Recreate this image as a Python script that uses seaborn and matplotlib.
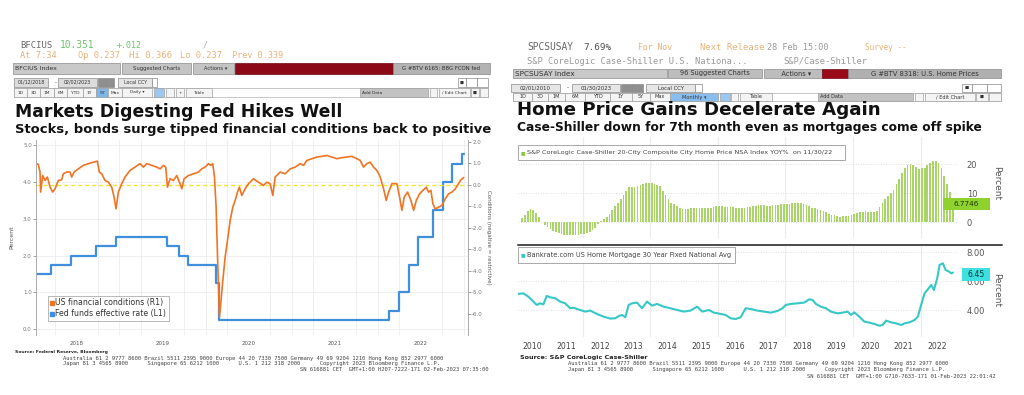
import numpy as np
import pandas as pd
import matplotlib
matplotlib.use('Agg')
import matplotlib.pyplot as plt
import seaborn as sns
from matplotlib.patches import Rectangle
from matplotlib.lines import Line2D

W, H = 1024, 395

# ---------------- left chart data ----------------
# Fed funds effective rate (L1), step starts in decimal years
fed_years = [2018.03, 2018.21, 2018.44, 2018.73, 2018.96, 2019.55, 2019.69, 2019.80,
             2020.12, 2020.16, 2022.13, 2022.25, 2022.37, 2022.47, 2022.64, 2022.76,
             2022.86, 2022.985, 2022.999]
fed_rate = [1.5, 1.75, 2.0, 2.25, 2.5, 2.25, 2.0, 1.75,
            1.25, 0.25, 0.5, 1.0, 1.75, 2.5, 3.25, 4.0,
            4.5, 4.75, 4.75]

# US financial conditions (R1)
fci_years = [2018.030, 2018.057, 2018.077, 2018.084, 2018.108, 2018.135, 2018.162, 2018.193,
             2018.224, 2018.251, 2018.290, 2018.328, 2018.348, 2018.387, 2018.425, 2018.445,
             2018.472, 2018.522, 2018.580, 2018.639, 2018.697, 2018.743, 2018.766, 2018.794,
             2018.832, 2018.871, 2018.910, 2018.937, 2018.960, 2018.987, 2019.026, 2019.065,
             2019.123, 2019.181, 2019.239, 2019.278, 2019.317, 2019.375, 2019.433, 2019.472,
             2019.511, 2019.538, 2019.557, 2019.588, 2019.627, 2019.666, 2019.704, 2019.724,
             2019.751, 2019.801, 2019.859, 2019.918, 2019.956, 2019.995, 2020.034, 2020.061,
             2020.084, 2020.104, 2020.123, 2020.142, 2020.162, 2020.177, 2020.201, 2020.228,
             2020.255, 2020.286, 2020.317, 2020.344, 2020.371, 2020.394, 2020.421, 2020.460,
             2020.499, 2020.557, 2020.615, 2020.673, 2020.712, 2020.751, 2020.782, 2020.809,
             2020.867, 2020.925, 2020.984, 2021.042, 2021.100, 2021.139, 2021.177, 2021.236,
             2021.294, 2021.352, 2021.410, 2021.468, 2021.526, 2021.584, 2021.642, 2021.701,
             2021.759, 2021.797, 2021.836, 2021.875, 2021.914, 2021.952, 2021.991, 2022.030,
             2022.069, 2022.100, 2022.127, 2022.166, 2022.224, 2022.255, 2022.282, 2022.309,
             2022.348, 2022.387, 2022.418, 2022.449, 2022.487, 2022.526, 2022.565, 2022.592,
             2022.619, 2022.642, 2022.669, 2022.708, 2022.747, 2022.786, 2022.824, 2022.863,
             2022.902, 2022.940, 2022.968, 2022.999]
fci_value = [0.98, 0.95, 0.59, -0.34, 0.43, 0.20, 0.36, -0.11,
             -0.34, -0.19, 0.20, 0.23, 0.51, 0.59, 0.59, 0.36,
             0.59, 0.74, 0.90, 0.98, 1.05, 1.10, 0.59, 0.51,
             0.20, 0.12, -0.11, -0.57, -1.12, -0.34, 0.05, 0.36,
             0.67, 0.82, 0.98, 0.82, 0.98, 0.90, 0.82, 0.74,
             0.90, 0.82, -0.11, 0.28, 0.20, 0.43, 0.05, -0.19,
             0.28, 0.43, 0.51, 0.59, 0.74, 0.82, 0.98, 0.90,
             0.98, 0.36, -1.04, -3.67, -6.15, -5.53, -4.45, -3.36,
             -2.59, -1.66, -1.04, -0.73, -0.34, -0.11, -0.50, -0.19,
             0.05, 0.28, 0.12, -0.03, 0.12, 0.05, -0.50, 0.36,
             0.59, 0.51, 0.74, 0.82, 0.98, 0.90, 1.13, 1.21,
             1.29, 1.32, 1.36, 1.29, 1.21, 1.26, 1.29, 1.32,
             1.21, 1.13, 0.82, 0.98, 1.05, 0.82, 0.67, 0.36,
             -0.19, -0.73, -0.34, 0.05, 0.05, -0.57, -1.19, -0.57,
             -0.34, -0.73, -1.19, -0.73, -0.42, -0.26, -0.11, -0.34,
             -0.26, -0.88, -1.12, -1.04, -0.96, -0.65, -0.42, -0.34,
             -0.19, 0.05, 0.23, 0.33]

# ---------------- right chart data ----------------
# Case-Shiller 20-city YoY %, monthly Feb 2010 .. Nov 2022
cs_yoy = [1.4, 2.6, 3.8, 4.6, 4.3, 3.2, 1.7, 0.2, -0.9, -1.6, -2.4,
          -3.0, -3.3, -3.6, -4.0, -4.2, -4.4, -4.5, -4.4, -4.3, -4.2, -4.0, -3.9,
          -3.8, -3.5, -2.6, -1.8, -0.7, 0.5, 1.2, 2.0, 3.0, 4.2, 5.5, 6.8,
          8.1, 9.3, 10.9, 12.1, 12.2, 12.2, 12.4, 12.8, 13.3, 13.6, 13.7, 13.4,
          13.2, 12.9, 12.4, 10.8, 9.3, 8.1, 6.7, 6.2, 5.6, 4.9, 4.5, 4.5,
          4.6, 4.8, 5.0, 5.0, 4.9, 5.0, 5.0, 5.0, 5.1, 5.4, 5.7, 5.6,
          5.6, 5.3, 5.3, 5.4, 5.3, 5.1, 5.1, 5.1, 5.1, 5.2, 5.2, 5.5,
          5.6, 5.8, 5.9, 6.0, 5.7, 5.7, 5.8, 5.8, 6.0, 6.4, 6.4, 6.4,
          6.4, 6.8, 6.8, 6.6, 6.5, 6.4, 5.9, 5.5, 5.1, 5.0, 4.6, 4.2,
          4.0, 3.5, 2.8, 2.5, 2.4, 2.2, 2.0, 2.1, 2.1, 2.2, 2.6, 2.9,
          3.1, 3.5, 3.5, 3.9, 3.7, 3.5, 3.5, 3.9, 5.2, 6.6, 7.9, 9.1,
          10.1, 11.1, 13.3, 14.9, 17.0, 18.6, 19.7, 20.0, 19.8, 19.2, 18.4, 18.6,
          18.8, 19.9, 20.3, 21.2, 21.2, 20.5, 18.7, 16.1, 13.1, 10.4, 6.77]

# Bankrate 30y fixed mortgage rate
mort_years = [2010.090, 2010.238, 2010.387, 2010.535, 2010.634, 2010.733, 2010.832, 2010.931,
              2011.030, 2011.179, 2011.327, 2011.476, 2011.624, 2011.723, 2011.921, 2012.070,
              2012.218, 2012.416, 2012.614, 2012.812, 2012.961, 2013.060, 2013.159, 2013.258,
              2013.357, 2013.456, 2013.604, 2013.753, 2013.901, 2014.050, 2014.198, 2014.396,
              2014.594, 2014.792, 2014.990, 2015.188, 2015.386, 2015.535, 2015.733, 2015.881,
              2016.079, 2016.228, 2016.376, 2016.525, 2016.673, 2016.822, 2016.970, 2017.168,
              2017.366, 2017.564, 2017.762, 2017.911, 2018.010, 2018.158, 2018.356, 2018.554,
              2018.703, 2018.802, 2018.901, 2019.049, 2019.198, 2019.346, 2019.544, 2019.693,
              2019.841, 2019.940, 2020.039, 2020.188, 2020.336, 2020.485, 2020.633, 2020.782,
              2020.881, 2020.980, 2021.128, 2021.277, 2021.425, 2021.524, 2021.673, 2021.821,
              2021.920, 2022.019, 2022.118, 2022.217, 2022.316, 2022.396, 2022.495, 2022.564,
              2022.663, 2022.742, 2022.841, 2022.910, 2022.960]
mort_rate = [5.13, 5.17, 4.94, 4.60, 4.37, 4.48, 4.41, 4.99,
             4.90, 4.83, 4.60, 4.48, 4.14, 4.18, 4.02, 3.91,
             3.98, 3.75, 3.56, 3.43, 3.45, 3.60, 3.68, 3.52,
             4.37, 4.48, 4.53, 4.14, 4.60, 4.32, 4.44, 4.25,
             4.14, 4.02, 3.91, 3.98, 4.25, 3.91, 4.02, 3.84,
             3.75, 3.68, 3.45, 3.40, 3.52, 4.14, 4.09, 3.98,
             3.91, 3.84, 3.95, 4.14, 4.37, 4.44, 4.48, 4.53,
             4.76, 4.71, 4.44, 4.25, 4.14, 3.91, 3.79, 3.84,
             3.91, 3.68, 3.86, 3.56, 3.22, 3.15, 3.06, 2.94,
             2.99, 3.29, 3.17, 3.10, 2.99, 3.10, 3.17, 3.33,
             3.56, 4.37, 5.17, 5.45, 5.75, 5.40, 6.21, 7.13,
             7.24, 6.78, 6.67, 6.55, 6.60]

cs_dates = pd.date_range('2010-02-15', periods=len(cs_yoy), freq='MS') + pd.Timedelta(days=14)
cs_years = cs_dates.year + (cs_dates.dayofyear - 1) / 365.25

sns.set_style('white')
plt.rcParams['font.family'] = ['DejaVu Sans']

fig = plt.figure(figsize=(W / 100, H / 100), dpi=100)
renderer = fig.canvas.get_renderer()


def fx(px):
    return px / W


def fy(py):
    return 1 - py / H


def rect(x0, y0, x1, y1):
    return [fx(x0), fy(y1), (x1 - x0) / W, (y1 - y0) / H]


def txt(x, y, s, size=5, color='#222', ha='left', va='center', width=None, **kw):
    t = fig.text(fx(x), fy(y), s, fontsize=size, color=color, ha=ha, va=va, **kw)
    if width:
        w = t.get_window_extent(renderer).width
        t.set_fontsize(size * width / w)
    return t


def box(x0, y0, x1, y1, fc, ec='#8a8a8a', lw=0.5, label=None, tcolor='#333', size=3.6, ha='center'):
    fig.add_artist(Rectangle((fx(x0), fy(y1)), (x1 - x0) / W, (y1 - y0) / H,
                             transform=fig.transFigure, fc=fc, ec=ec, lw=lw))
    if label:
        if ha == 'center':
            txt((x0 + x1) / 2, (y0 + y1) / 2, label, size=size, color=tcolor, ha='center')
        else:
            txt(x0 + 2, (y0 + y1) / 2, label, size=size, color=tcolor, ha='left')


mono = 'DejaVu Sans Mono'
amber = '#eab27a'
green = '#6cc46c'

# ================= LEFT PANEL HEADER =================
txt(20, 45, 'BFCIUS', 6, '#666', family=mono, width=32)
txt(60, 45, '10.351', 7, green, family=mono, width=35)
txt(117, 45, '+.012', 6, green, family=mono, width=25)
txt(203, 45, '/', 6, '#aaa', family=mono)
txt(20, 56, 'At 7:34', 6, amber, family=mono, width=37)
txt(78, 56, 'Op 0.237', 6, amber, family=mono, width=42)
txt(129, 56, 'Hi 0.366', 6, amber, family=mono, width=43)
txt(180, 56, 'Lo 0.237', 6, amber, family=mono, width=42)
txt(232, 56, 'Prev 0.339', 6, amber, family=mono, width=51)

box(13, 63, 120, 74, '#c9c9c9', label='BFCIUS Index', ha='left', size=4.5)
box(122, 63, 191, 74, '#c4c4c4', label='Suggested Charts', size=3.8)
box(193, 63, 234, 74, '#c4c4c4', label='   Actions \u25be', size=3.8)
box(235, 63, 393, 74, '#8c0a18', ec='#6d0712')
box(393, 63, 490, 74, '#b3b3b3', label='G #BTV 6165: BBG FCON fed', size=3.9)

box(14, 78, 48, 87, '#dcdcdc', label='01/12/2018', size=3.4)
txt(55, 82.5, '-', 4)
box(58, 78, 97, 87, '#dcdcdc', label='02/02/2023', size=3.4)
box(98, 78, 106, 87, '#8f8f8f')
box(106, 78, 114, 87, '#8f8f8f')
box(118, 78, 152, 87, '#e6e6e6', label='Local CCY', size=3.4)
box(152, 78, 157, 87, '#ffffff')
box(458, 78, 466, 87, '#ffffff', label='\u25a0', size=3)
box(466, 78, 477, 87, '#ffffff')
box(477, 78, 488, 87, '#ffffff')

box(14, 88, 488, 97, '#ffffff', ec='#b0b0b0')
left_btns = [('1D', 14, 27), ('3D', 27, 40), ('1M', 40, 54), ('6M', 54, 67), ('YTD', 67, 83),
             ('1Y', 83, 96), ('5Y', 96, 108), ('Max', 108, 122), ('Daily \u25be', 122, 152)]
for lab, a, b in left_btns:
    box(a, 88, b, 97, '#7fb6e8' if lab == '5Y' else '#f4f4f4', ec='#a0a0a0', label=lab, size=3.2)
box(154, 88, 164, 97, '#9cc7f0', ec='#a0a0a0')
box(166, 88, 174, 97, '#f4f4f4', ec='#a0a0a0')
box(176, 88, 184, 97, '#f4f4f4', ec='#a0a0a0', label='+', size=3.2)
box(186, 88, 212, 97, '#f4f4f4', ec='#a0a0a0', label='Table', size=3.2)
box(360, 88, 428, 97, '#c2c2c2', ec='#a0a0a0', label='Add Data', size=3.2, ha='left')
box(430, 88, 437, 97, '#f4f4f4', ec='#a0a0a0')
box(439, 88, 470, 97, '#f4f4f4', ec='#a0a0a0', label='\u2215 Edit Chart', size=3.2)
box(471, 88, 479, 97, '#f4f4f4', ec='#a0a0a0', label='\u25a0', size=3)
box(480, 88, 488, 97, '#f4f4f4', ec='#a0a0a0')

txt(15, 112, 'Markets Digesting Fed Hikes Well', 12, '#111', weight='bold', width=326)
txt(15, 130, 'Stocks, bonds surge tipped financial conditions back to positive', 8,
    '#111', weight='bold', width=473)

# ================= LEFT CHART =================
ax1 = fig.add_axes(rect(36, 140, 468, 335))
sns.lineplot(x=fed_years, y=fed_rate, ax=ax1, color='#3f8fdc', lw=1.6,
             drawstyle='steps-post', estimator=None, sort=False)
ax2 = ax1.twinx()
ax2.axhline(0, color='#f4e13a', lw=1.0, ls=(0, (3, 2)))
sns.lineplot(x=fci_years, y=fci_value, ax=ax2, color='#ef7424', lw=1.2,
             estimator=None, sort=False)

ax1.set_xlim(2018.03, 2023.05)
ax1.set_ylim(-0.16, 5.14)
ax2.set_ylim(-6.98, 2.08)
ax1.set_xticks([2018.5, 2019.5, 2020.5, 2021.5, 2022.5])
ax1.set_xticklabels(['2018', '2019', '2020', '2021', '2022'])
ax1.set_xticks(np.arange(2018.25, 2023.05, 0.25), minor=True)
ax1.set_yticks([0, 1, 2, 3, 4, 5])
ax1.set_yticklabels(['0.0', '1.0', '2.0', '3.0', '4.0', '5.0'])
ax2.set_yticks([-6, -5, -4, -3, -2, -1, 0, 1, 2])
ax2.set_yticklabels(['-6.0', '-5.0', '-4.0', '-3.0', '-2.0', '-1.0', '0.0', '1.0', '2.0'])
ax1.tick_params(axis='x', which='both', length=0, labelsize=4, colors='#555', pad=4)
ax1.tick_params(axis='y', length=2, width=0.5, labelsize=4, colors='#777', pad=1)
ax2.tick_params(axis='y', length=2, width=0.5, labelsize=4, colors='#777', pad=1)
ax1.grid(True, which='minor', axis='x', color='#ececec', lw=0.6)
ax1.grid(True, which='major', axis='y', color='#ececec', lw=0.6)
ax1.set_xlabel('')
ax1.set_ylabel('Percent', fontsize=4.5, color='#555', labelpad=6)
ax2.set_ylabel('Conditions (negative = restrictive)', fontsize=4, color='#555',
               rotation=270, labelpad=6)
for a in (ax1, ax2):
    for s in ('top', 'bottom'):
        a.spines[s].set_visible(False)
    a.spines['left'].set_color('#aaaaaa')
    a.spines['right'].set_color('#aaaaaa')
    a.spines['left'].set_linewidth(0.6)
    a.spines['right'].set_linewidth(0.6)

handles = [Line2D([], [], ls='none', marker='s', ms=2.5, color='#ef7424'),
           Line2D([], [], ls='none', marker='s', ms=2.5, color='#3f8fdc')]
leg = ax2.legend(handles, ['US financial conditions (R1)', 'Fed funds effective rate (L1)'],
                 loc='lower left', bbox_to_anchor=(fx(48), fy(321)), bbox_transform=fig.transFigure,
                 fontsize=5.6, frameon=True, fancybox=False, edgecolor='#999999',
                 handlelength=0.4, handletextpad=0.15, borderpad=0.35, labelspacing=0.25,
                 borderaxespad=0)
leg.get_frame().set_linewidth(0.6)
for t in leg.get_texts():
    t.set_color('#333')

txt(15, 352.5, 'Source: Federal Reserve, Bloomberg', 3.5, '#222', weight='bold', width=93)
txt(63, 358.5, 'Australia 61 2 9777 8600 Brazil 5511 2395 9000 Europe 44 20 7330 7500 '
    'Germany 49 69 9204 1210 Hong Kong 852 2977 6000', 3.5, '#444', family=mono, width=380)
txt(63, 364, 'Japan 81 3 4565 8900      Singapore 65 6212 1000      U.S. 1 212 318 2000'
    '      Copyright 2023 Bloomberg Finance L.P.', 3.5, '#444', family=mono, width=379)
txt(300, 369.5, 'SN 616881 CET  GMT+1:00 H207-7222-171 02-Feb-2023 07:35:00', 3.5, '#444',
    family=mono, width=188)

# ================= RIGHT PANEL HEADER =================
txt(527, 47, 'SPCSUSAY', 6, '#666', family=mono, width=46)
txt(583, 47, '7.69%', 6, '#555', family=mono, width=28)
txt(638, 47, 'For Nov', 6, amber, family=mono, width=34)
txt(700, 47, 'Next Release', 6, amber, family=mono, width=64)
txt(767, 47, '28 Feb 15:00', 6, '#999', family=mono, width=61)
txt(865, 47, 'Survey --', 6, amber, family=mono, width=42)
txt(527, 61, 'S&P CoreLogic Case-Shiller U.S. Nationa...', 6, '#999', family=mono, width=222)
txt(783, 61, 'S&P/Case-Shiller', 6, '#999', family=mono, width=84)

box(513, 69, 667, 78, '#c9c9c9', label='SPCSUSAY Index', ha='left', size=5.2)
box(668, 69, 762, 78, '#bdbdbd', label='96 Suggested Charts', size=4.8)
box(764, 69, 822, 78, '#bdbdbd', label='   Actions \u25be', size=4.8)
box(822, 69, 848, 78, '#9a0a18', ec='#6d0712')
box(848, 69, 1001, 78, '#b0b0b0', label='G #BTV 8318: U.S. Home Prices', size=4.9)

box(511, 84, 560, 92, '#e6e6e6', label='02/01/2010', size=3.9)
txt(567, 88, '-', 4)
box(572, 84, 620, 92, '#e6e6e6', label='01/30/2023', size=3.9)
box(621, 84, 632, 92, '#8f8f8f')
box(632, 84, 643, 92, '#8f8f8f')
box(646, 84, 695, 92, '#e6e6e6', label='Local CCY', size=3.9)
box(695, 84, 702, 92, '#ffffff')
box(962, 84, 972, 92, '#ffffff', label='\u25a0', size=3.2)
box(972, 84, 987, 92, '#ffffff')
box(987, 84, 1001, 92, '#ffffff')

box(513, 93, 1001, 101, '#ffffff', ec='#b0b0b0')
right_btns = [('1D', 513, 532), ('3D', 532, 548), ('1M', 548, 565), ('6M', 565, 585),
              ('YTD', 585, 610), ('1Y', 610, 632), ('5Y', 632, 650), ('Max', 650, 670),
              ('Monthly \u25be', 670, 718)]
for lab, a, b in right_btns:
    box(a, 93, b, 101, '#88bdf0' if lab.startswith('Monthly') else '#f4f4f4', ec='#a0a0a0',
        label=lab, size=3.6)
box(720, 93, 730, 101, '#9cc7f0', ec='#a0a0a0')
box(731, 93, 738, 101, '#f4f4f4', ec='#a0a0a0')
box(740, 93, 772, 101, '#f4f4f4', ec='#a0a0a0', label='Table', size=3.6)
box(818, 93, 913, 101, '#c2c2c2', ec='#a0a0a0', label='Add Data', size=3.6, ha='left')
box(915, 93, 923, 101, '#f4f4f4', ec='#a0a0a0')
box(925, 93, 975, 101, '#f4f4f4', ec='#a0a0a0', label='\u2215 Edit Chart', size=3.6)
box(976, 93, 988, 101, '#f4f4f4', ec='#a0a0a0', label='\u25a0', size=3)
box(989, 93, 1001, 101, '#f4f4f4', ec='#a0a0a0')

txt(517, 110, 'Home Price Gains Decelerate Again', 12, '#111', weight='bold', width=363)
txt(517, 127, 'Case-Shiller down for 7th month even as mortgages come off spike', 8,
    '#111', weight='bold', width=465)

# ================= RIGHT CHARTS =================
even_years = [2012, 2014, 2016, 2018, 2020, 2022]

ax3 = fig.add_axes(rect(518, 137, 957, 238))
ax3.bar(cs_years, cs_yoy, width=0.05, color='#a9d468', edgecolor='none')
ax3.set_xlim(2010.08, 2023.08)
ax3.set_ylim(-5.4, 29.4)
ax3.set_xticks(even_years)
ax3.set_xticklabels([])
ax3.set_yticks([0, 10, 20])
ax3.yaxis.tick_right()
ax3.tick_params(axis='both', length=0, labelsize=6, colors='#555', pad=7)
ax3.grid(True, axis='x', color='#ececec', lw=0.8)
ax3.grid(True, axis='y', color='#d8d8d8', lw=0.6, ls=(0, (1, 2)))
sns.despine(ax=ax3, left=True, bottom=True, right=True, top=True)

ax4 = fig.add_axes(rect(518, 244, 957, 337))
sns.lineplot(x=mort_years, y=mort_rate, ax=ax4, color='#36c8c6', lw=1.5,
             estimator=None, sort=False)
ax4.set_xlim(2010.08, 2023.08)
ax4.set_ylim(2.16, 8.57)
ax4.set_xticks(even_years)
ax4.set_xticklabels([])
ax4.set_xticks([y + 0.5 for y in range(2010, 2023)], minor=True)
ax4.set_xticklabels([str(y) for y in range(2010, 2023)], minor=True)
ax4.set_yticks([4, 6, 8])
ax4.set_yticklabels(['4.00', '6.00', '8.00'])
ax4.yaxis.tick_right()
ax4.tick_params(axis='both', which='both', length=0, labelsize=6, colors='#555', pad=7)
ax4.tick_params(axis='x', which='minor', labelsize=5.6, colors='#444', pad=3.5)
ax4.grid(True, axis='x', which='major', color='#ececec', lw=0.8)
ax4.grid(True, axis='y', color='#d8d8d8', lw=0.6, ls=(0, (1, 2)))
ax4.set_xlabel('')
ax4.set_ylabel('')
sns.despine(ax=ax4, left=True, bottom=True, right=True, top=True)

fig.add_artist(Line2D([fx(518), fx(1002)], [fy(244.5), fy(244.5)], transform=fig.transFigure,
                      color='#4a4a4a', lw=1.4))

txt(997, 183, 'Percent', 6.5, '#555', ha='center', rotation=270)
txt(997, 290, 'Percent', 6.5, '#555', ha='center', rotation=270)

# legends of the right panel
box(518, 145, 845, 160, '#ffffff', ec='#9a9a9a', lw=0.6)
txt(521, 152.5, '\u25a0', 3.5, '#8cc63f')
txt(527, 152.5, 'S&P CoreLogic Case-Shiller 20-City Composite City Home Price NSA Index YOY%'
    '  on 11/30/22', 4.5, '#444', width=305)
box(518, 247, 735, 263, '#ffffff', ec='#9a9a9a', lw=0.6)
txt(521, 255, '\u25a0', 3.5, '#36c8c6')
txt(527, 255, 'Bankrate.com US Home Mortgage 30 Year Fixed National Avg', 4.8, '#444', width=203)

# last value tags
box(943, 198, 990, 210, '#8fd22e', ec='none', label='6.7746', tcolor='#1a3a00', size=5.2)
box(962, 268, 990, 281, '#3fe0e0', ec='none', label='6.45', tcolor='#0b3a3a', size=5.6)

txt(520, 357.5, 'Source: S&P CoreLogic Case-Shiller', 3.8, '#222', weight='bold', width=127)
txt(568, 364, 'Australia 61 2 9777 8600 Brazil 5511 2395 9000 Europe 44 20 7330 7500 '
    'Germany 49 69 9204 1210 Hong Kong 852 2977 6000', 3.5, '#444', family=mono, width=384)
txt(568, 370, 'Japan 81 3 4565 8900      Singapore 65 6212 1000      U.S. 1 212 318 2000'
    '      Copyright 2023 Bloomberg Finance L.P.', 3.5, '#444', family=mono, width=375)
txt(807, 376, 'SN 616881 CET  GMT+1:00 G710-7633-171 01-Feb-2023 22:01:42', 3.5, '#444',
    family=mono, width=191)

fig.savefig('out.png', dpi=100)
